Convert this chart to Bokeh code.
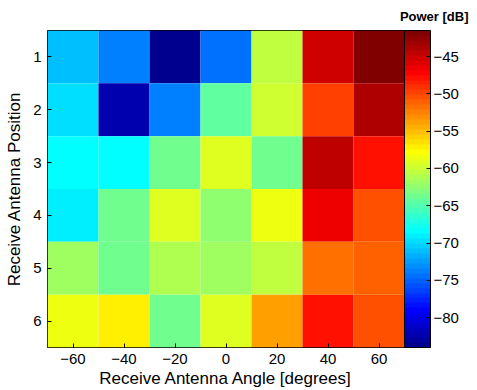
import numpy as np
from bokeh.plotting import figure
from bokeh.models import (LinearColorMapper, ColorBar, FixedTicker, Range1d,
                          Title, ColumnDataSource)
from bokeh.embed import file_html
from bokeh.resources import INLINE

# ---- data ----
angles = [-60, -40, -20, 0, 20, 40, 60]
positions = [1, 2, 3, 4, 5, 6]
power_row1 = [-71.0, -73.9, -83.5, -74.4, -60.6, -45.2, -41.6]
power_row2 = [-70.0, -82.3, -73.9, -64.3, -59.6, -50.0, -43.8]
power_row3 = [-68.6, -68.6, -63.8, -59.0, -64.0, -44.7, -47.9]
power_row4 = [-69.0, -63.6, -59.0, -62.3, -58.5, -46.2, -50.4]
power_row5 = [-61.7, -63.6, -61.3, -61.7, -60.6, -52.1, -51.0]
power_row6 = [-58.5, -57.4, -63.5, -58.8, -53.5, -47.6, -50.4]
x_tick_labels = ["\u221260", "\u221240", "\u221220", "0", "20", "40", "60"]
y_tick_labels = ["1", "2", "3", "4", "5", "6"]
cbar_ticks = [-80, -75, -70, -65, -60, -55, -50, -45]
cbar_tick_labels = ["\u221280", "\u221275", "\u221270", "\u221265", "\u221260", "\u221255", "\u221250", "\u221245"]
c_low, c_high = -84.0, -41.5

rows = [power_row1, power_row2, power_row3, power_row4, power_row5, power_row6]


def jet(m=64):
    n = int(np.ceil(m / 4))
    u = np.concatenate([np.arange(1, n + 1) / n, np.ones(n - 1), np.arange(n, 0, -1) / n])
    g = int(np.ceil(n / 2)) - (1 if m % 4 == 1 else 0) + np.arange(1, len(u) + 1)
    r = g + n
    b = g - n
    g = g[g <= m]
    r = r[r <= m]
    b = b[b >= 1]
    J = np.zeros((m, 3))
    J[r - 1, 0] = u[:len(r)]
    J[g - 1, 1] = u[:len(g)]
    J[b - 1, 2] = u[len(u) - len(b):]
    return ["#%02x%02x%02x" % tuple(int(round(c * 255)) for c in rgb) for rgb in J]


palette = jet(64)
mapper = LinearColorMapper(palette=palette, low=c_low, high=c_high)

xs, ys, vals = [], [], []
for pos, r_ in zip(positions, rows):
    for ang, v in zip(angles, r_):
        xs.append(ang)
        ys.append(pos)
        vals.append(v)
src = ColumnDataSource(dict(x=xs, y=ys, v=vals))

FONT = "Liberation Sans"

p = figure(frame_width=357, frame_height=317,
           x_range=Range1d(-70, 70), y_range=Range1d(6.5, 0.5),
           output_backend="svg", toolbar_location=None,
           min_border_left=47, min_border_top=29, min_border_bottom=10,
           min_border_right=70)
p.rect(x="x", y="y", width=20, height=1, source=src,
       fill_color={"field": "v", "transform": mapper}, line_color=None)

p.grid.visible = False
p.outline_line_color = "black"
p.outline_line_width = 1
p.outline_line_alpha = 1
p.background_fill_color = "white"

for ax in (p.xaxis[0], p.yaxis[0]):
    ax.major_tick_in = 4
    ax.major_tick_out = 0
    ax.minor_tick_line_color = None
    ax.axis_line_color = None
    ax.major_label_text_font = FONT
    ax.major_label_text_font_size = "15px"
    ax.major_label_text_color = "black"
    ax.axis_label_text_font = FONT
    ax.axis_label_text_font_size = "17px"
    ax.axis_label_text_font_style = "normal"
    ax.axis_label_text_color = "black"

p.xaxis.ticker = FixedTicker(ticks=angles)
p.xaxis.major_label_overrides = {a: l for a, l in zip(angles, x_tick_labels)}
p.xaxis.axis_label = "Receive Antenna Angle [degrees]"
p.xaxis.major_label_standoff = 6
p.xaxis.axis_label_standoff = 2

p.yaxis.ticker = FixedTicker(ticks=positions)
p.yaxis.major_label_overrides = {a: l for a, l in zip(positions, y_tick_labels)}
p.yaxis.axis_label = "Receive Antenna Position"
p.yaxis.major_label_standoff = 6
p.yaxis.axis_label_standoff = 6

cb = ColorBar(color_mapper=mapper, ticker=FixedTicker(ticks=cbar_ticks),
              major_label_overrides={t: l for t, l in zip(cbar_ticks, cbar_tick_labels)},
              width=26, height=317, margin=0, padding=0,
              major_tick_in=4, major_tick_out=0, major_tick_line_color="black",
              minor_tick_line_color=None,
              bar_line_color="black", border_line_color=None,
              background_fill_alpha=0, label_standoff=3,
              major_label_text_font=FONT, major_label_text_font_size="15px",
              major_label_text_color="black")
p.add_layout(cb, "right")

p.add_layout(Title(text="Power [dB]", align="right", text_font=FONT,
                   text_font_size="13px", text_font_style="bold",
                   text_color="black", offset=-64, standoff=13), "above")

open("out.html", "w").write(file_html(p, INLINE))
